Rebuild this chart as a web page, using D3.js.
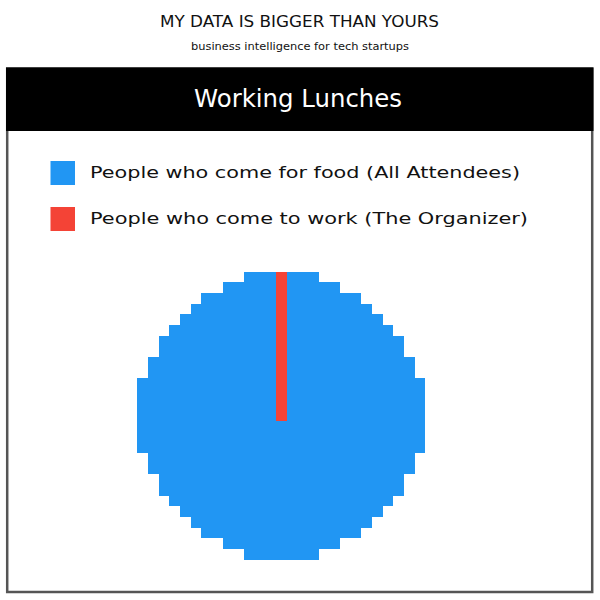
<!DOCTYPE html>
<html>
<head>
<meta charset="utf-8">
<script src="https://cdn.jsdelivr.net/npm/d3@7"></script>
<style>
  html, body { margin: 0; padding: 0; background: #fff; }
  svg { display: block; }
  text { font-family: "DejaVu Sans", "Liberation Sans", sans-serif; }
</style>
</head>
<body>
<svg id="chart" width="600" height="600"></svg>
<script>
// ---- data ----
const categories = ["People who come for food (All Attendees)", "People who come to work (The Organizer)"];
const values = [99, 1];
const colors = ["#2196F3", "#F44336"];
const title = "MY DATA IS BIGGER THAN YOURS";
const subtitle = "business intelligence for tech startups";
const chartTitle = "Working Lunches";

// ---- layout ----
const W = 600, H = 600;
const svg = d3.select("#chart");

// frame
svg.append("rect")
  .attr("x", 7.2).attr("y", 68.5)
  .attr("width", 585).attr("height", 523.5)
  .attr("fill", "#fff").attr("stroke", "#555").attr("stroke-width", 2.5);
svg.append("rect")
  .attr("x", 6).attr("y", 67.5)
  .attr("width", 587.5).attr("height", 63.5)
  .attr("fill", "#000");

// titles
svg.append("text").attr("x", 299.5).attr("y", 27)
  .attr("text-anchor", "middle").attr("font-size", 15)
  .attr("textLength", 279).attr("lengthAdjust", "spacingAndGlyphs")
  .attr("fill", "#111").text(title);
svg.append("text").attr("x", 300).attr("y", 50)
  .attr("text-anchor", "middle").attr("font-size", 11)
  .attr("textLength", 218).attr("lengthAdjust", "spacingAndGlyphs")
  .attr("fill", "#111").text(subtitle);
svg.append("text").attr("x", 298).attr("y", 107)
  .attr("text-anchor", "middle").attr("font-size", 24)
  .attr("textLength", 208).attr("lengthAdjust", "spacingAndGlyphs")
  .attr("fill", "#fff").text(chartTitle);

// legend
const legendY = d3.scalePoint().domain(categories).range([161, 207]);
const lg = svg.append("g").selectAll("g").data(categories).join("g")
  .attr("transform", d => `translate(0,${legendY(d)})`);
lg.append("rect").attr("x", 50.5).attr("y", 0).attr("width", 24.5).attr("height", 24)
  .attr("fill", (d, i) => colors[i]);
lg.append("text").attr("x", 90).attr("y", 17)
  .attr("font-size", 16)
  .attr("textLength", (d, i) => i === 0 ? 430 : 438)
  .attr("lengthAdjust", "spacingAndGlyphs")
  .attr("fill", "#111").text(d => d);

// pixelated pie
const N = 27;               // grid cells per side
const rCells = 13.4;        // radius in cells
const gx = d3.scaleLinear().domain([0, N]).range([137.3, 425.3]);
const gy = d3.scaleLinear().domain([0, N]).range([271.7, 559.7]);
const color = d3.scaleOrdinal().domain(categories).range(colors);

const arcs = d3.pie().sort(null).value(d => d.v)
  (categories.map((c, i) => ({ c, v: values[i] })));

const cells = [];
const cc = N / 2;
for (let r = 0; r < N; r++) {
  for (let c = 0; c < N; c++) {
    const dx = (c + 0.5) - cc;
    const dy = cc - (r + 0.5);
    if (Math.hypot(dx, dy) > rCells) continue;
    let a = Math.atan2(dx, dy);
    if (a <= 0) a += 2 * Math.PI;
    const arc = arcs.find(p => a > p.startAngle && a <= p.endAngle) || arcs[arcs.length - 1];
    cells.push({ r, c, cat: arc.data.c });
  }
}

svg.append("g").selectAll("rect").data(cells).join("rect")
  .attr("x", d => Math.round(gx(d.c)))
  .attr("y", d => Math.round(gy(d.r)))
  .attr("width", d => Math.round(gx(d.c + 1)) - Math.round(gx(d.c)))
  .attr("height", d => Math.round(gy(d.r + 1)) - Math.round(gy(d.r)))
  .attr("shape-rendering", "crispEdges")
  .attr("fill", d => color(d.cat));
</script>
</body>
</html>
